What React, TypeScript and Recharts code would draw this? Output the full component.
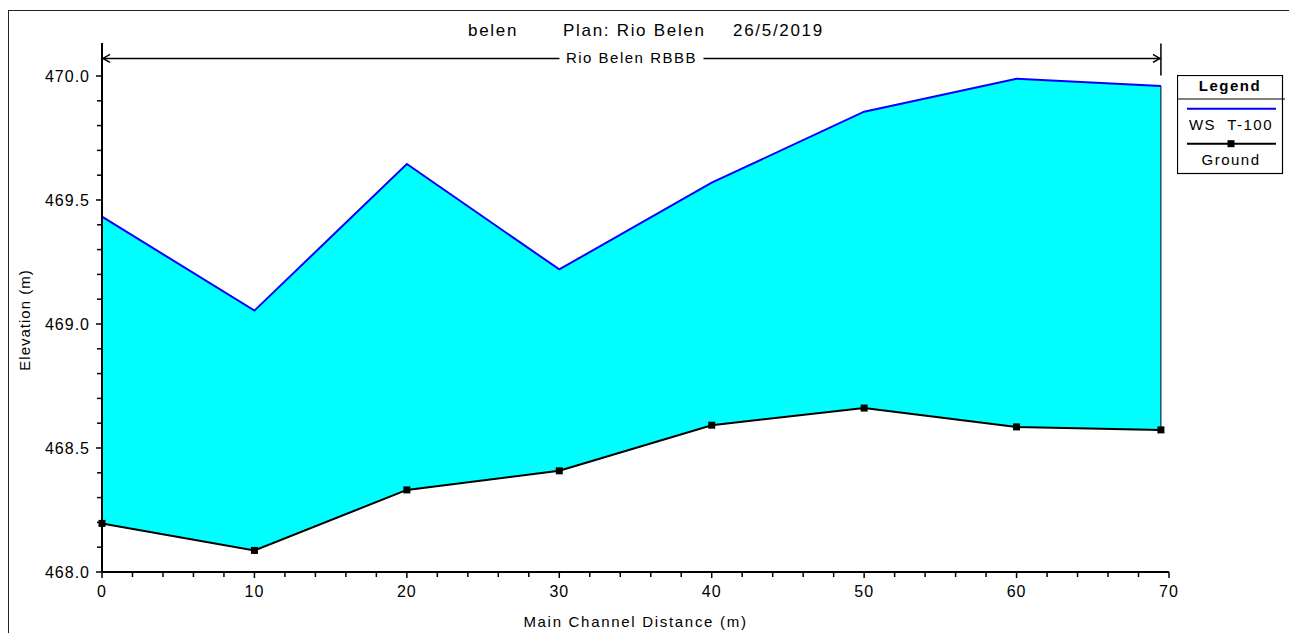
import React from 'react';
import { ComposedChart, Area, Line, XAxis, YAxis, ReferenceLine, Legend, Customized } from 'recharts';

// stations along the main channel (m) and elevations (m)
const stations = [0, 10, 20, 30, 40, 50, 60, 69.47];
const wsT100 = [469.433, 469.054, 469.645, 469.22, 469.57, 469.856, 469.989, 469.96];
const ground = [468.196, 468.087, 468.331, 468.408, 468.592, 468.661, 468.585, 468.573];

const xTicks = [0, 2, 4, 6, 8, 10, 12, 14, 16, 18, 20, 22, 24, 26, 28, 30, 32, 34, 36, 38, 40, 42, 44, 46, 48, 50, 52, 54, 56, 58, 60, 62, 64, 66, 68, 70];
const yTicks = [468.0, 468.1, 468.2, 468.3, 468.4, 468.5, 468.6, 468.7, 468.8, 468.9, 469.0, 469.1, 469.2, 469.3, 469.4, 469.5, 469.6, 469.7, 469.8, 469.9, 470.0];

const titleParts = ['belen', 'Plan: Rio Belen', '26/5/2019'];
const reachName = 'Rio Belen RBBB';
const reachLevel = 470.071;
const wsName = 'WS  T-100';
const groundName = 'Ground';
const legendOrder = [wsName, groundName];

const FONT = '"Liberation Sans", Arial, sans-serif';

const rows = stations.map((x, i) => ({
  x,
  ws: wsT100[i],
  ground: ground[i],
  band: [ground[i], wsT100[i]],
}));

function XTick(props: any) {
  const { x, y, payload } = props;
  const major = payload.value % 10 === 0;
  return (
    <g>
      <line x1={x} y1={y} x2={x} y2={y + (major ? 6 : 5)} stroke="#000" strokeWidth={1.5} />
      {major && (
        <text x={x} y={y + 25} textAnchor="middle" fontSize={16} letterSpacing={1} fill="#000" fontFamily={FONT}>
          {payload.value}
        </text>
      )}
    </g>
  );
}

function YTick(props: any) {
  const { x, y, payload } = props;
  const major = Math.round(payload.value * 10) % 5 === 0;
  return (
    <g>
      <line x1={x - (major ? 6 : 5)} y1={y} x2={x} y2={y} stroke="#000" strokeWidth={1.5} />
      {major && (
        <text x={x - 12} y={y + 6} textAnchor="end" fontSize={16} letterSpacing={1} fill="#000" fontFamily={FONT}>
          {payload.value.toFixed(1)}
        </text>
      )}
    </g>
  );
}

function ReachArrow(props: any) {
  const { x1, y1, x2 } = props;
  const mid = (x1 + x2) / 2;
  return (
    <g>
      <line x1={x1} y1={y1} x2={x2} y2={y1} stroke="#000" strokeWidth={1.5} />
      <polyline points={`${x1 + 8},${y1 - 4} ${x1 + 1},${y1} ${x1 + 8},${y1 + 4}`} fill="none" stroke="#000" strokeWidth={1.5} />
      <polyline points={`${x2 - 8},${y1 - 4} ${x2 - 1},${y1} ${x2 - 8},${y1 + 4}`} fill="none" stroke="#000" strokeWidth={1.5} />
      <line x1={x2} y1={y1 - 15} x2={x2} y2={y1 + 17} stroke="#000" strokeWidth={1.5} />
      <rect x={mid - 72} y={y1 - 9} width={144} height={18} fill="#fff" />
      <text x={mid} y={y1 + 5} textAnchor="middle" fontSize={15} letterSpacing={1.5} fill="#000" fontFamily={FONT}>
        {reachName}
      </text>
    </g>
  );
}

function LegendBox(props: any) {
  const items = (props.payload || [])
    .filter((p: any) => p.type !== 'none')
    .sort((a: any, b: any) => legendOrder.indexOf(a.value) - legendOrder.indexOf(b.value));
  return (
    <svg width={110} height={101} style={{ display: 'block' }}>
      <rect x={0.5} y={0.5} width={105} height={98} fill="#fff" stroke="#000" strokeWidth={1.2} />
      <text x={53} y={16} textAnchor="middle" fontSize={15} fontWeight="bold" letterSpacing={1.5} fill="#000" fontFamily={FONT}>
        Legend
      </text>
      <line x1={0} y1={24} x2={108} y2={24} stroke="#000" strokeWidth={1} />
      {items.map((it: any, i: number) => {
        const ly = 33.7 + i * 35;
        return (
          <g key={it.value}>
            <line x1={10} y1={ly} x2={99} y2={ly} stroke={it.color} strokeWidth={2} />
            {it.type === 'square' && <rect x={50.5} y={ly - 3.5} width={7} height={7} fill={it.color} />}
            <text x={54} y={ly + 21.5} textAnchor="middle" fontSize={15} letterSpacing={1.5} fill="#000" fontFamily={FONT} style={{ whiteSpace: 'pre' }}>
              {it.value}
            </text>
          </g>
        );
      })}
    </svg>
  );
}

function Title() {
  const xs = [460, 555, 725];
  return (
    <g>
      {titleParts.map((t, i) => (
        <text key={t} x={xs[i]} y={28} fontSize={17} letterSpacing={1.7} fill="#000" fontFamily={FONT}>
          {t}
        </text>
      ))}
    </g>
  );
}

export default function App() {
  const last = stations.length - 1;
  return (
    <div style={{ position: 'fixed', left: 0, top: 0, width: 1289, height: 633, overflow: 'hidden', background: '#fff', fontFamily: FONT }}>
      {/* page frame: top and left edges only */}
      <div style={{ position: 'absolute', left: 8, top: 10, width: 1281, height: 1, background: '#222' }} />
      <div style={{ position: 'absolute', left: 8, top: 10, width: 1, height: 623, background: '#222' }} />
      <div style={{ position: 'absolute', left: 8, top: 8 }}>
        <ComposedChart
          width={1281}
          height={625}
          data={rows}
          margin={{ top: 35, right: 120, bottom: 0, left: 0 }}
        >
          <XAxis
            type="number"
            dataKey="x"
            domain={[0, 70]}
            ticks={xTicks}
            interval={0}
            tick={<XTick />}
            tickLine={false}
            tickSize={0}
            tickMargin={0}
            axisLine={{ stroke: '#000', strokeWidth: 2 }}
            height={61}
            label={(p: any) => {
              const vb = p.viewBox;
              return (
                <text x={vb.x + vb.width / 2} y={vb.y + 55} textAnchor="middle" fontSize={15} letterSpacing={1.7} fill="#000" fontFamily={FONT}>
                  Main Channel Distance (m)
                </text>
              );
            }}
          />
          <YAxis
            type="number"
            domain={[468, 470.133]}
            ticks={yTicks}
            interval={0}
            allowDataOverflow
            tick={<YTick />}
            tickLine={false}
            tickSize={0}
            tickMargin={0}
            axisLine={{ stroke: '#000', strokeWidth: 2 }}
            width={94}
            label={() => (
              <text x={17} y={317} transform="rotate(-90 17 312)" textAnchor="middle" fontSize={15} letterSpacing={1} fill="#000" fontFamily={FONT}>
                Elevation (m)
              </text>
            )}
          />
          <Area
            type="linear"
            dataKey="band"
            fill="#00FFFF"
            fillOpacity={1}
            stroke="none"
            legendType="none"
            isAnimationActive={false}
          />
          <ReferenceLine
            segment={[
              { x: stations[last], y: ground[last] },
              { x: stations[last], y: wsT100[last] },
            ]}
            stroke="#000"
            strokeWidth={1}
          />
          <ReferenceLine
            segment={[
              { x: stations[0], y: reachLevel },
              { x: stations[last], y: reachLevel },
            ]}
            shape={(p: any) => <ReachArrow {...p} />}
          />
          <Line
            type="linear"
            dataKey="ws"
            name={wsName}
            stroke="#0000FF"
            strokeWidth={2}
            dot={false}
            legendType="line"
            isAnimationActive={false}
          />
          <Line
            type="linear"
            dataKey="ground"
            name={groundName}
            stroke="#000"
            strokeWidth={2}
            legendType="square"
            dot={(p: any) => <rect key={`g${p.index}`} x={p.cx - 3.5} y={p.cy - 3.5} width={7} height={7} fill="#000" />}
            isAnimationActive={false}
          />
          <Legend
            layout="horizontal"
            align="center"
            verticalAlign="middle"
            content={<LegendBox />}
            wrapperStyle={{ position: 'absolute', left: 1169, top: 67, width: 110, height: 101 }}
          />
          <Customized component={<Title />} />
        </ComposedChart>
      </div>
    </div>
  );
}
